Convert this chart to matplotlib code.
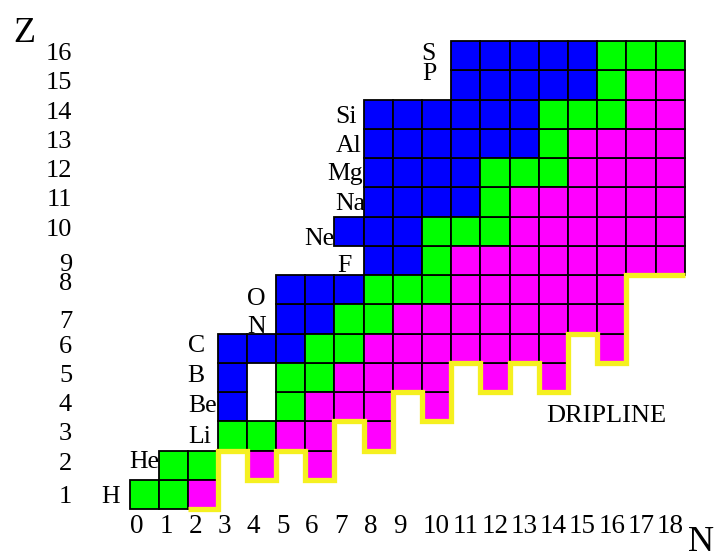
import numpy as np
import matplotlib
matplotlib.use("Agg")
import matplotlib.pyplot as plt

# chart of light nuclides: one string per Z, character index = N
# b = proton rich (beta+), g = stable, m = neutron rich (beta-), . = none
rows = {
    1:  "ggm",
    2:  ".gg.m.m",
    3:  "...ggmm.m",
    4:  "...b.gmmm.m",
    5:  "...b.ggmmmm.m.m",
    6:  "...bbbggmmmmmmm.m",
    7:  ".....bbggmmmmmmmm",
    8:  ".....bbbgggmmmmmm",
    9:  "........bbgmmmmmmmm",
    10: ".......bbbgggmmmmmm",
    11: "........bbbbgmmmmmm",
    12: "........bbbbgggmmmm",
    13: "........bbbbbbgmmmm",
    14: "........bbbbbbgggmm",
    15: "...........bbbbbgmm",
    16: "...........bbbbbggg",
}

symbols = ["H", "He", "Li", "Be", "B", "C", "N", "O",
           "F", "Ne", "Na", "Mg", "Al", "Si", "P", "S"]
z_ticks = list(range(1, 17))
n_ticks = list(range(0, 19))

# label layout (data units)
sym_x = [-1.15, -0.02, 1.90, 2.00, 1.76, 1.79, 3.82, 3.82,
         6.83, 5.97, 7.03, 6.86, 6.97, 6.90, 9.77, 9.71]
sym_y = [0.70, 1.90, 2.76, 3.82, 4.84, 5.87, 6.52, 7.47,
         8.60, 9.53, 10.72, 11.75, 12.71, 13.70, 15.17, 15.85]
ztick_nudge = {9: -0.22, 8: 0.15, 7: -0.17, 1: -0.15}

colors = {"b": "#0000ff", "g": "#00ff00", "m": "#ff00ff"}
serif = "Liberation Serif"


def main():
    fig = plt.figure(figsize=(7.19, 5.53), dpi=100)
    ax = fig.add_axes([0, 0, 1, 1])
    ax.set_xlim(-4.952, 19.671)
    ax.set_ylim(-1.004, 17.902)
    ax.axis("off")

    for key, col in colors.items():
        ns, zs = [], []
        for z, s in rows.items():
            for n, c in enumerate(s):
                if c == key:
                    ns.append(n)
                    zs.append(z)
        ax.bar(ns, 1.0, bottom=np.array(zs) - 0.5, width=1.0, color=col,
               edgecolor="black", linewidth=1.3, zorder=2)

    # dripline: lowest bound Z in every column from N=2 on
    drip_n = np.arange(2, 19)
    lowest = []
    for n in drip_n:
        lowest.append(min(z for z, s in rows.items() if n < len(s) and s[n] != "."))
    ax.stairs(np.array(lowest) - 0.5, edges=np.append(drip_n - 0.5, drip_n[-1] + 0.5),
              baseline=None, color="#f5f020", linewidth=3.8, zorder=3)

    for sym, x, y in zip(symbols, sym_x, sym_y):
        ax.text(x, y, sym, ha="center", va="baseline", fontsize=18.5,
                family=serif, zorder=4)

    for z in z_ticks:
        ax.text(-2.486, z - 0.15 + ztick_nudge.get(z, 0.0), str(z), ha="right",
                va="baseline", fontsize=19, family=serif)

    for n in n_ticks:
        x = n - 0.27 if n < 10 else n
        ax.text(x, -0.32, str(n), ha="center", va="baseline", fontsize=19.5,
                family=serif)

    ax.text(-4.13, 16.47, "Z", ha="center", va="baseline", fontsize=26, family=serif)
    ax.text(19.05, -0.95, "N", ha="center", va="baseline", fontsize=26, family=serif)
    ax.text(15.8, 3.47, "DRIPLINE", ha="center", va="baseline", fontsize=19,
            family=serif)

    fig.savefig("out.png", dpi=100)


if __name__ == "__main__":
    main()
